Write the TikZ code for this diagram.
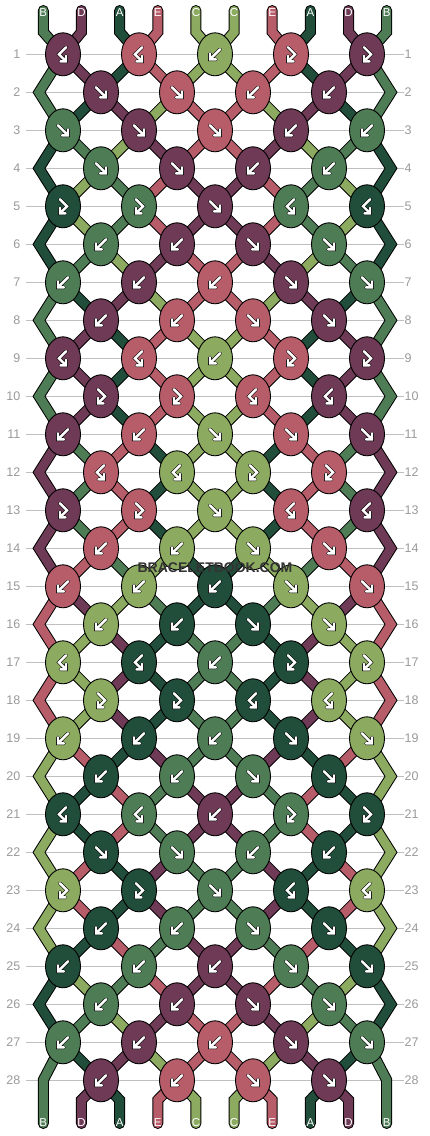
\documentclass[tikz,border=0pt]{standalone}
\usepackage{fontspec}
\setmainfont{Liberation Sans}
\usetikzlibrary{shapes.geometric}

\definecolor{colA}{HTML}{214E3B}
\definecolor{colB}{HTML}{4E7C55}
\definecolor{colC}{HTML}{8CAB60}
\definecolor{colD}{HTML}{6E3A56}
\definecolor{colE}{HTML}{B75D69}

% white arrow with a thin dark rim
\newcommand\glyph[1]{%
  \draw[line width=3.6pt, black, line cap=round] #1;
  \draw[line width=2.4pt, white, line cap=round] #1;}

\tikzset{
  thread/.style={draw=black, line width=1pt, double=col#1, double distance=9pt},
  knot/.style={ellipse, draw=black, line width=0.9pt, minimum width=35pt, minimum height=43pt, inner sep=0pt},
  rowline/.style={draw=black!25, line width=0.8pt},
  rownum/.style={text=black!40, font=\fontsize{12.5}{12.5}\selectfont, inner sep=0pt},
  strname/.style={text=white, font=\fontsize{11.5}{11.5}\selectfont, inner sep=0pt},
  pics/gf/.style={code={\glyph{(-5,-5) -- (5,5) (-1,5) -- (5,5) -- (5,-1)}}},
  pics/gb/.style={code={\glyph{(5,-5) -- (-5,5) (1,5) -- (-5,5) -- (-5,-1)}}},
  pics/gfb/.style={code={\glyph{(-3,-7) -- (4,0) -- (-3,7) (-3,1.5) -- (-3,7) -- (2.5,7)}}},
  pics/gbf/.style={code={\glyph{(3,-7) -- (-4,0) -- (3,7) (3,1.5) -- (3,7) -- (-2.5,7)}}}
}

\begin{document}
\begin{tikzpicture}[x=1pt, y=-1pt]
\useasboundingbox (0,0) rectangle (430,1136);

% rows: guide lines, numbers, knot places
\foreach \r in {1,...,28} {
  \pgfmathsetmacro\yy{54.3+38*(\r-1)}
  \ifodd\r\relax
    \foreach \k in {1,...,5} {\coordinate (k\r-\k) at ({215+76*(\k-3)},\yy);}
  \else
    \foreach \k in {1,...,4} {\coordinate (k\r-\k) at ({215+76*(\k-2.5)},\yy);}
    \coordinate (e\r-l) at (39,\yy);
    \coordinate (e\r-r) at (391,\yy);
  \fi
  \draw[rowline] (26,\yy) -- (404,\yy);
  \node[rownum, anchor=east] (ln\r) at (20.5,\yy) {\r};
  \node[rownum, anchor=west] (rn\r) at (404.5,\yy) {\r};
}

% thread ends
\foreach \p in {1,...,10} {
  \pgfmathsetmacro\xx{215+38.15*(\p-5.5)}
  \coordinate (t\p) at (\xx,10.5);
  \coordinate (tb\p) at (\xx,32);
  \coordinate (b\p) at (\xx,1123.5);
  \ifnum\p=1\relax \coordinate (bb\p) at (\xx,1080);
  \else\ifnum\p=10\relax \coordinate (bb\p) at (\xx,1080);
  \else \coordinate (bb\p) at (\xx,1100); \fi\fi
}

% threads between rows (colour of each place after row r)
\foreach \r/\cols in {
  1/{B,D,A,E,C,C,E,A,D,B}, 2/{B,A,D,C,E,E,C,D,A,B}, 3/{A,B,C,D,E,E,D,C,B,A},
  4/{A,C,B,E,D,D,E,B,C,A}, 5/{A,C,B,E,D,D,E,B,C,A}, 6/{A,B,C,D,E,E,D,C,B,A},
  7/{B,A,D,C,E,E,C,D,A,B}, 8/{B,D,A,E,C,C,E,A,D,B}, 9/{B,D,A,E,C,C,E,A,D,B},
  10/{B,D,A,E,C,C,E,A,D,B}, 11/{D,B,E,A,C,C,A,E,B,D}, 12/{D,B,E,A,C,C,A,E,B,D},
  13/{D,B,E,A,C,C,A,E,B,D}, 14/{D,E,B,C,A,A,C,B,E,D}, 15/{E,D,C,B,A,A,B,C,D,E},
  16/{E,C,D,A,B,B,A,D,C,E}, 17/{E,C,D,A,B,B,A,D,C,E}, 18/{E,C,D,A,B,B,A,D,C,E},
  19/{C,E,A,D,B,B,D,A,E,C}, 20/{C,A,E,B,D,D,B,E,A,C}, 21/{C,A,E,B,D,D,B,E,A,C},
  22/{C,E,A,D,B,B,D,A,E,C}, 23/{C,E,A,D,B,B,D,A,E,C}, 24/{C,A,E,B,D,D,B,E,A,C},
  25/{A,C,B,E,D,D,E,B,C,A}, 26/{A,B,C,D,E,E,D,C,B,A}, 27/{B,A,D,C,E,E,C,D,A,B}} {
  \pgfmathtruncatemacro\rn{\r+1}
  \pgfmathtruncatemacro\rnn{\r+2}
  \foreach \c [count=\p] in \cols {
    \pgfmathtruncatemacro\kup{(\p+1)/2}
    \pgfmathtruncatemacro\kdn{\p/2}
    \ifodd\r\relax
      \ifnum\p=1\relax
        \ifnum\r<27\relax \draw[thread=\c] (k\r-1) -- (e\rn-l) -- (k\rnn-1);
        \else \draw[thread=\c, line cap=round] (k\r-1) -- (bb1) -- (b1); \fi
      \else\ifnum\p=10\relax
        \ifnum\r<27\relax \draw[thread=\c] (k\r-5) -- (e\rn-r) -- (k\rnn-5);
        \else \draw[thread=\c, line cap=round] (k\r-5) -- (bb10) -- (b10); \fi
      \else
        \draw[thread=\c] (k\r-\kup) -- (k\rn-\kdn);
      \fi\fi
    \else
      \ifnum\p>1\relax\ifnum\p<10\relax
        \draw[thread=\c] (k\r-\kdn) -- (k\rn-\kup);
      \fi\fi
    \fi
  }
}

% loose ends with their letters
\foreach \c [count=\p] in {B,D,A,E,C,C,E,A,D,B} {
  \pgfmathtruncatemacro\kup{(\p+1)/2}
  \pgfmathtruncatemacro\kdn{\p/2}
  \pgfmathsetmacro\xx{215+38.15*(\p-5.5)}
  \draw[thread=\c, line cap=round] (t\p) -- (tb\p) -- (k1-\kup);
  \ifnum\p>1\relax\ifnum\p<10\relax
    \draw[thread=\c, line cap=round] (k28-\kdn) -- (bb\p) -- (b\p);
  \fi\fi
  \node[strname] (top\p) at (\xx,13) {\c};
  \node[strname] (bot\p) at (\xx,1123) {\c};
}

% knots: colour / kind
\foreach \r/\knots in {
  1/{D/bf,E/bf,C/b,E/fb,D/fb}, 2/{D/f,E/f,E/b,D/b},
  3/{B/f,D/f,E/f,D/b,B/b}, 4/{B/f,D/f,D/b,B/b},
  5/{A/fb,B/fb,D/f,B/bf,A/bf}, 6/{B/b,D/b,D/f,B/f},
  7/{B/b,D/b,E/b,D/f,B/f}, 8/{D/b,E/b,E/f,D/f},
  9/{D/bf,E/bf,C/b,E/fb,D/fb}, 10/{D/fb,E/fb,E/bf,D/bf},
  11/{D/b,E/b,C/f,E/f,D/f}, 12/{E/bf,C/bf,C/fb,E/fb},
  13/{D/fb,E/fb,C/f,E/bf,D/bf}, 14/{E/b,C/b,C/f,E/f},
  15/{E/b,C/b,A/b,C/f,E/f}, 16/{C/b,A/b,A/f,C/f},
  17/{C/bf,A/bf,B/b,A/fb,C/fb}, 18/{C/fb,A/fb,A/bf,C/bf},
  19/{C/b,A/b,B/b,A/f,C/f}, 20/{A/b,B/b,B/f,A/f},
  21/{A/bf,B/bf,D/b,B/fb,A/fb}, 22/{A/f,B/f,B/b,A/b},
  23/{C/fb,A/fb,B/f,A/bf,C/bf}, 24/{A/b,B/b,B/f,A/f},
  25/{A/b,B/b,D/b,B/f,A/f}, 26/{B/b,D/b,D/f,B/f},
  27/{B/b,D/b,E/b,D/f,B/f}, 28/{D/b,E/b,E/f,D/f}} {
  \foreach \c/\t [count=\k] in \knots {
    \node[knot, fill=col\c] (n\r-\k) at (k\r-\k) {};
    \pic at (k\r-\k) {g\t};
  }
}

\node[font=\bfseries\fontsize{14}{14}\selectfont, text=black!80, inner sep=0pt] (mark) at (215,568) {BRACELETBOOK.COM};
\end{tikzpicture}
\end{document}
